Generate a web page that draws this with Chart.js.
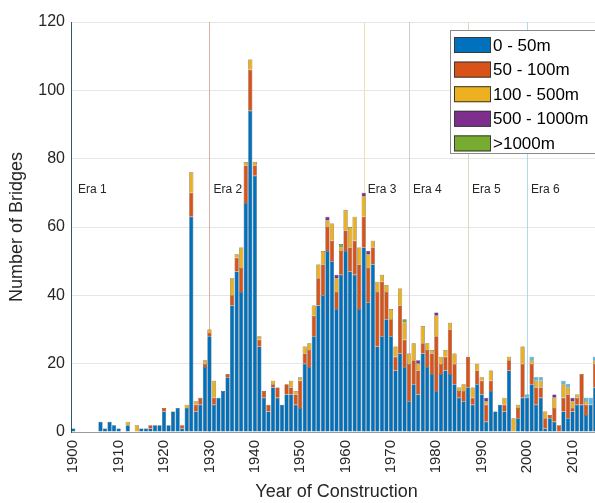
<!DOCTYPE html>
<html>
<head>
<meta charset="utf-8">
<script src="https://cdn.jsdelivr.net/npm/chart.js@4.4.1/dist/chart.umd.min.js"></script>
<style>
  html, body { margin: 0; padding: 0; background: #fff; overflow: hidden; }
  #wrap { width: 595px; height: 503px; overflow: hidden; }
</style>
</head>
<body>
<div id="wrap"><canvas id="bridges" width="602" height="503"></canvas></div>
<script>
// years 1900 .. 2016 (the last one falls just outside the picture)
const years = [];
for (let y = 1900; y <= 2016; y++) years.push(String(y));

// number of bridges per year, one row per decade
const span0to50 = [
  1, 0, 0, 0, 0, 0, 3, 1, 3, 2,
  1, 0, 2, 0, 0, 1, 1, 1, 2, 2,
  6, 2, 6, 7, 1, 7, 63, 6, 8, 19,
  28, 8, 10, 12, 16, 37, 47, 41, 67, 94,
  75, 25, 10, 6, 13, 10, 8, 11, 11, 8,
  7, 20, 19, 28, 37, 40, 53, 50, 36, 46,
  53, 47, 46, 36, 54, 38, 49, 25, 28, 33,
  28, 18, 23, 19, 9, 14, 11, 23, 19, 17,
  12, 17, 18, 17, 14, 10, 9, 13, 8, 14,
  11, 3, 12, 6, 8, 6, 18, 0, 4, 10,
  10, 14, 8, 10, 1, 4, 3, 0, 6, 4,
  6, 8, 8, 5, 8, 13, null
];
const span50to100 = [
  0, 0, 0, 0, 0, 0, 0, 0, 0, 0,
  0, 0, 0, 0, 0, 0, 0, 1, 0, 0,
  1, 0, 0, 0, 1, 0, 7, 2, 2, 1,
  1, 2, 0, 0, 1, 3, 4, 7, 11, 12,
  3, 2, 2, 2, 1, 3, 0, 3, 2, 3,
  8, 3, 5, 6, 8, 9, 7, 6, 5, 7,
  6, 7, 10, 13, 9, 10, 5, 16, 16, 8,
  5, 4, 14, 8, 11, 7, 7, 3, 5, 6,
  16, 3, 4, 13, 6, 2, 3, 9, 2, 4,
  4, 5, 3, 0, 0, 2, 3, 0, 3, 10,
  0, 6, 5, 3, 3, 1, 4, 2, 4, 7,
  1, 2, 9, 3, 0, 7, null
];
const span100to500 = [
  0, 0, 0, 0, 0, 0, 0, 0, 0, 0,
  0, 0, 1, 0, 2, 0, 0, 0, 0, 0,
  0, 0, 0, 0, 0, 1, 6, 1, 0, 1,
  1, 5, 0, 0, 0, 5, 1, 6, 1, 3,
  1, 1, 0, 0, 1, 0, 0, 0, 2, 1,
  1, 2, 2, 3, 4, 4, 2, 5, 4, 1,
  6, 6, 7, 5, 6, 4, 2, 3, 2, 2,
  3, 3, 5, 5, 3, 5, 2, 5, 2, 1,
  6, 2, 2, 2, 3, 1, 2, 0, 3, 2,
  1, 1, 3, 0, 0, 2, 1, 4, 1, 5,
  0, 1, 2, 2, 2, 0, 3, 0, 4, 2,
  2, 1, 0, 1, 0, 1, null
];
const span500to1000 = [
  0, 0, 0, 0, 0, 0, 0, 0, 0, 0,
  0, 0, 0, 0, 0, 0, 0, 0, 0, 0,
  0, 0, 0, 0, 0, 0, 0, 0, 0, 0,
  0, 0, 0, 0, 0, 0, 0, 0, 0, 0,
  0, 0, 0, 0, 0, 0, 0, 0, 0, 0,
  0, 0, 0, 0, 0, 0, 1, 0, 1, 0,
  0, 0, 0, 0, 1, 1, 0, 0, 0, 0,
  0, 0, 0, 0, 0, 0, 1, 0, 0, 0,
  1, 0, 0, 0, 0, 0, 0, 0, 0, 0,
  0, 1, 0, 0, 0, 0, 0, 0, 0, 0,
  0, 0, 0, 0, 0, 0, 1, 0, 0, 0,
  1, 0, 0, 0, 0, 0, null
];
const spanOver1000 = [
  0, 0, 0, 0, 0, 0, 0, 0, 0, 0,
  0, 0, 0, 0, 0, 0, 0, 0, 0, 0,
  0, 0, 0, 0, 0, 0, 0, 0, 0, 0,
  0, 0, 0, 0, 0, 0, 0, 0, 0, 0,
  0, 0, 0, 0, 0, 0, 0, 0, 0, 0,
  0, 0, 0, 0, 0, 0, 0, 0, 0, 1,
  0, 0, 0, 0, 0, 0, 0, 0, 0, 0,
  0, 0, 0, 1, 0, 0, 0, 0, 0, 0,
  0, 0, 0, 0, 0, 0, 0, 0, 0, 0,
  0, 0, 0, 0, 0, 0, 0, 0, 0, 0,
  0, 0, 0, 0, 0, 0, 0, 0, 0, 0,
  0, 0, 0, 0, 0, 0, null
];
// light blue caps on recent bars (not in the legend)
const spanUnknown = [
  0, 0, 0, 0, 0, 0, 0, 0, 0, 0,
  0, 0, 0, 0, 0, 0, 0, 0, 0, 0,
  0, 0, 0, 0, 0, 0, 0, 0, 0, 0,
  0, 0, 0, 0, 0, 0, 0, 0, 0, 0,
  0, 0, 0, 0, 0, 0, 0, 0, 0, 0,
  0, 0, 0, 0, 0, 0, 0, 0, 0, 0,
  0, 0, 0, 0, 0, 0, 0, 0, 0, 0,
  0, 0, 0, 0, 0, 0, 0, 0, 0, 0,
  0, 0, 0, 0, 0, 0, 0, 0, 0, 0,
  0, 0, 0, 0, 0, 0, 0, 0, 0, 0,
  1, 1, 1, 1, 0, 0, 0, 0, 1, 1,
  0, 0, 0, 1, 2, 1, null
];

const seriesNames = ["0 - 50m", "50 - 100m", "100 - 500m", "500 - 1000m", ">1000m", "unknown"];
const seriesColors = ["#0072BD", "#D95319", "#EDB120", "#7E2F8E", "#77AC30", "#4DBEEE"];
const seriesData = [span0to50, span50to100, span100to500, span500to1000, spanOver1000, spanUnknown];

// eras: start year, label, line colour
const eraYears = ["1900", "1930", "1964", "1974", "1987", "2000"];
const eraNames = ["Era 1", "Era 2", "Era 3", "Era 4", "Era 5", "Era 6"];
const eraColors = [null, "#d8b2a2", "#eee0b4", "#d6c6da", "#d6dec0", "#b2d8ec"];

Chart.defaults.font.family = "'Liberation Sans', Arial, sans-serif";
Chart.defaults.color = "#262626";

//era lines go behind the bars, labels on top
const eraPlugin = {
  id: "eras",
  beforeDatasetsDraw(chart) {
    const { ctx, chartArea, scales } = chart;
    ctx.save();
    ctx.lineWidth = 1;
    eraYears.forEach((yr, i) => {
      if (!eraColors[i]) return;
      const x = Math.round(scales.x.getPixelForValue(years.indexOf(yr))) + 0.5;
      ctx.strokeStyle = eraColors[i];
      ctx.beginPath();
      ctx.moveTo(x, chartArea.top);
      ctx.lineTo(x, chartArea.bottom);
      ctx.stroke();
    });
    ctx.restore();
  },
  afterDatasetsDraw(chart) {
    const { ctx, chartArea, scales } = chart;
    ctx.save();
    ctx.font = "12px 'Liberation Sans', Arial, sans-serif";
    ctx.fillStyle = "#262626";
    ctx.textBaseline = "middle";
    const y = scales.y.getPixelForValue(71);
    eraYears.forEach((yr, i) => {
      let x = scales.x.getPixelForValue(years.indexOf(yr)) + 4;
      if (i === 0) x = chartArea.left + 7;
      ctx.fillText(eraNames[i], x, y);
    });
    ctx.restore();
  },
};

//boxed legend in the top right corner, first five series only
const legendBox = {
  id: "legendBox",
  afterDraw(chart) {
    const ctx = chart.ctx;
    const left = 450, top = 30, rowH = 24.6;
    ctx.save();
    ctx.fillStyle = "#ffffff";
    ctx.fillRect(left, top, 170, 123);
    ctx.strokeStyle = "#8a8a8a";
    ctx.lineWidth = 1;
    ctx.strokeRect(left + 0.5, top + 0.5, 170, 123);
    ctx.font = "17px 'Liberation Sans', Arial, sans-serif";
    ctx.textBaseline = "middle";
    for (let i = 0; i < 5; i++) {
      const cy = top + 15 + i * rowH;
      ctx.fillStyle = seriesColors[i];
      ctx.fillRect(454, cy - 8, 37, 16);
      ctx.strokeStyle = "#3a3a3a";
      ctx.strokeRect(454.5, cy - 7.5, 36, 15);
      ctx.fillStyle = "#000000";
      ctx.fillText(seriesNames[i], 493, cy + 1);
    }
    ctx.restore();
  },
};

new Chart(document.getElementById("bridges"), {
  type: "bar",
  data: {
    labels: years,
    datasets: seriesData.map((d, i) => ({
      label: seriesNames[i],
      data: d,
      backgroundColor: seriesColors[i],
      borderColor: "rgba(20,20,20,0.85)",
      borderWidth: 0.5,
      categoryPercentage: 1,
      barPercentage: 0.92,
    })),
  },
  options: {
    responsive: false,
    animation: false,
    layout: { padding: { top: 22, right: 0, left: 0, bottom: 0 } },
    plugins: { legend: { display: false }, tooltip: { enabled: false } },
    scales: {
      x: {
        stacked: true,
        grid: { display: false, drawTicks: false },
        border: { color: "#9a9a9a" },
        ticks: {
          autoSkip: false,
          minRotation: 90,
          maxRotation: 90,
          padding: 8,
          font: { size: 15 },
          callback: (v, i) => (Number(years[i]) % 10 === 0 ? years[i] : ""),
        },
        title: { display: true, text: "Year of Construction", font: { size: 18 }, padding: { top: 0, bottom: 0 } },
        afterFit: (s) => { s.height = 71; s.paddingLeft = 0; s.paddingRight = 0; },
      },
      y: {
        stacked: true,
        min: 0,
        max: 120,
        ticks: { stepSize: 20, padding: 6, font: { size: 16 } },
        grid: { color: "#e6e6e6", drawTicks: false },
        border: { color: "#2e5a6e" },
        title: { display: true, text: "Number of Bridges", font: { size: 18 }, padding: { top: 6, bottom: 0 } },
        afterFit: (s) => { s.width = 71; },
      },
    },
  },
  plugins: [eraPlugin, legendBox],
});
</script>
</body>
</html>
